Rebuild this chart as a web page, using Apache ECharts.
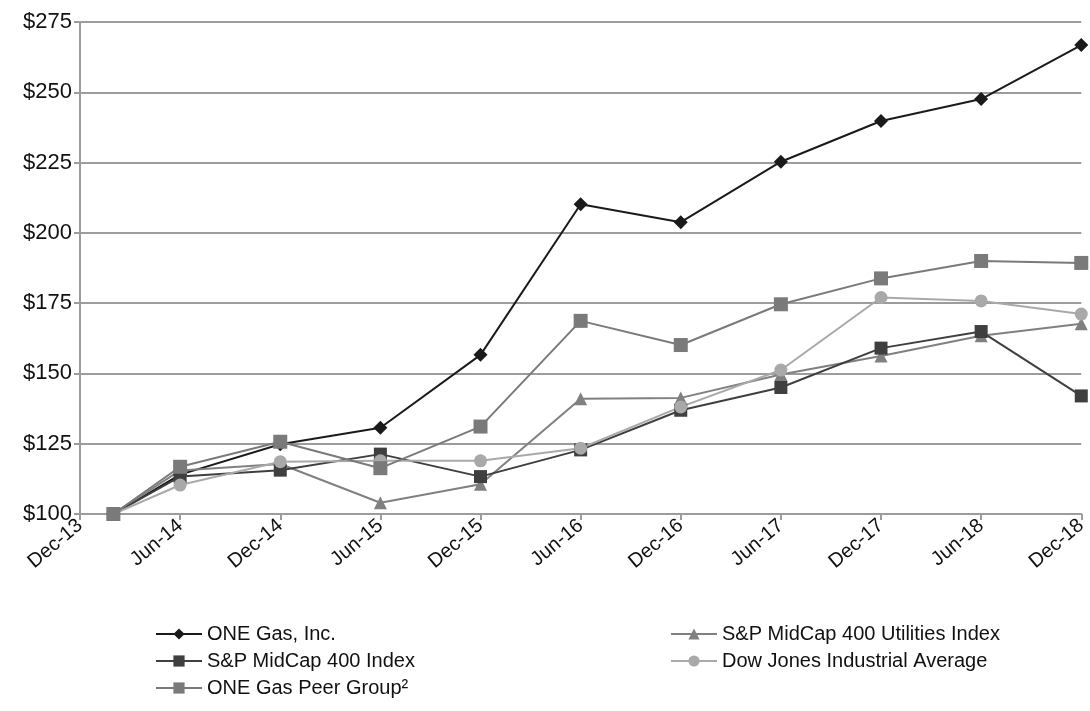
<!DOCTYPE html>
<html>
<head>
<meta charset="utf-8">
<script src="https://cdn.jsdelivr.net/npm/echarts@6/dist/echarts.min.js"></script>
<style>
html,body{margin:0;padding:0;background:#fff;}
#chart{width:1090px;height:711px;}
</style>
</head>
<body>
<div id="chart"></div>
<script>
// Tick labels every 6 months (x value = months since Dec-13)
const tickLabels = ['Dec-13','Jun-14','Dec-14','Jun-15','Dec-15','Jun-16','Dec-16','Jun-17','Dec-17','Jun-18','Dec-18'];
// Observation positions in months since Dec-13 (first point plotted slightly after the Dec-13 tick)
const obsMonths = [2, 6, 12, 18, 24, 30, 36, 42, 48, 54, 60];

const oneGas      = [100, 114.0, 124.8, 130.7, 156.6, 210.2, 203.8, 225.3, 239.8, 247.6, 266.8];
const spMidCap    = [100, 113.3, 115.6, 121.3, 113.3, 122.8, 136.9, 145.0, 159.0, 164.9, 142.0];
const spUtilities = [100, 115.5, 117.8, 104.0, 110.6, 141.0, 141.3, 149.6, 156.2, 163.4, 167.7];
const djia        = [100, 110.3, 118.6, 118.9, 118.9, 123.4, 138.1, 151.2, 177.0, 175.8, 171.1];
const peerGroup   = [100, 116.8, 125.7, 116.3, 131.1, 168.7, 160.1, 174.6, 183.8, 190.0, 189.3];

const names = ['ONE Gas, Inc.','S&P MidCap 400 Utilities Index','S&P MidCap 400 Index','Dow Jones Industrial Average','ONE Gas Peer Group\u00B2'];

function pts(arr){ return arr.map((v,i)=>[obsMonths[i], v]); }

const FONT = 'Liberation Sans, Arial, sans-serif';

function mk(name, data, color, symbol, size){
  return {
    name: name, type: 'line', data: pts(data),
    symbol: symbol, symbolSize: size,
    itemStyle: {color: color},
    lineStyle: {color: color, width: 2},
    emphasis: {disabled: true},
    animation: false
  };
}

const legendText = {fontSize: 20, fontFamily: FONT, color: '#111'};

const chart = echarts.init(document.getElementById('chart'));
chart.setOption({
  backgroundColor: '#ffffff',
  animation: false,
  grid: {left: 80, right: 6, top: 22, bottom: 197},
  xAxis: {
    type: 'value', min: 0, max: 60, interval: 6,
    axisLine: {show: true, lineStyle: {color: '#9c9c9c', width: 2}},
    axisTick: {show: true, length: 6, lineStyle: {color: '#9c9c9c', width: 2}},
    splitLine: {show: false},
    axisLabel: {
      rotate: 40, margin: 9, color: '#111', fontSize: 20, fontFamily: FONT,
      formatter: function(v){ return tickLabels[Math.round(v/6)] || ''; }
    }
  },
  yAxis: {
    type: 'value', min: 100, max: 275, interval: 25,
    axisLine: {show: true, lineStyle: {color: '#9c9c9c', width: 2}},
    axisTick: {show: true, length: 6, lineStyle: {color: '#9c9c9c', width: 2}},
    splitLine: {show: true, lineStyle: {color: '#9c9c9c', width: 2}},
    axisLabel: {color: '#111', fontSize: 22, fontFamily: FONT, margin: 8,
      formatter: function(v){ return '$' + v; }}
  },
  legend: [
    {
      orient: 'vertical', left: 150, top: 619, itemWidth: 46, itemHeight: 14, itemGap: 7,
      textStyle: legendText,
      data: [names[0], names[2], names[4]], selectedMode: false
    },
    {
      orient: 'vertical', left: 665, top: 619, itemWidth: 46, itemHeight: 14, itemGap: 7,
      textStyle: legendText,
      data: [names[1], names[3]], selectedMode: false
    }
  ],
  series: [
    mk(names[0], oneGas, '#1a1a1a', 'diamond', 14),
    mk(names[1], spUtilities, '#808080', 'triangle', 13),
    mk(names[2], spMidCap, '#3f3f3f', 'rect', 13),
    mk(names[3], djia, '#a9a9a9', 'circle', 13),
    mk(names[4], peerGroup, '#7a7a7a', 'rect', 14)
  ]
});
</script>
</body>
</html>
